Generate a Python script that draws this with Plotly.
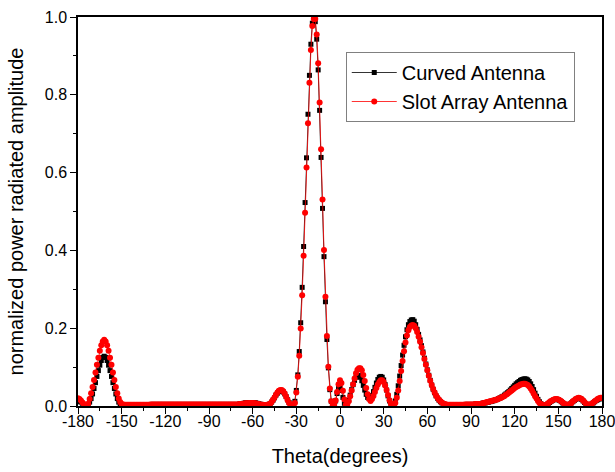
"""
Radiation pattern comparison: curved antenna vs slot array antenna.
Normalized power over theta, sampled every degree from -180 to 180.
"""

import plotly.graph_objects as go

# Sample angles (degrees)
theta = list(range(-180, 181))

# Curved Antenna (black squares), one row = 10 degrees
curved_antenna = [
    0.013, 0.012, 0.010, 0.007, 0.004, 0.002, 0.001, 0.004, 0.010, 0.019,  # -180
    0.031, 0.045, 0.060, 0.076, 0.091, 0.105, 0.117, 0.125, 0.128, 0.125,  # -170
    0.117, 0.105, 0.091, 0.076, 0.060, 0.045, 0.031, 0.019, 0.010, 0.004,  # -160
    0.002, 0.002, 0.002, 0.003, 0.003, 0.003, 0.003, 0.003, 0.003, 0.003,  # -150
    0.003, 0.003, 0.003, 0.003, 0.003, 0.003, 0.003, 0.003, 0.003, 0.003,  # -140
    0.004, 0.004, 0.004, 0.004, 0.004, 0.004, 0.004, 0.004, 0.004, 0.004,  # -130
    0.004, 0.004, 0.004, 0.004, 0.004, 0.004, 0.004, 0.004, 0.004, 0.004,  # -120
    0.004, 0.004, 0.004, 0.004, 0.004, 0.004, 0.004, 0.004, 0.004, 0.004,  # -110
    0.004, 0.004, 0.004, 0.004, 0.004, 0.004, 0.004, 0.004, 0.004, 0.004,  # -100
    0.004, 0.004, 0.004, 0.004, 0.004, 0.004, 0.004, 0.004, 0.004, 0.004,  # -90
    0.004, 0.004, 0.004, 0.004, 0.004, 0.004, 0.004, 0.004, 0.004, 0.004,  # -80
    0.004, 0.005, 0.006, 0.006, 0.007, 0.008, 0.008, 0.009, 0.009, 0.009,  # -70
    0.009, 0.009, 0.008, 0.007, 0.006, 0.005, 0.004, 0.003, 0.002, 0.002,  # -60
    0.003, 0.004, 0.006, 0.010, 0.015, 0.021, 0.028, 0.033, 0.037, 0.039,  # -50
    0.039, 0.036, 0.031, 0.024, 0.016, 0.009, 0.004, 0.002, 0.003, 0.012,  # -40
    0.040, 0.080, 0.140, 0.214, 0.305, 0.410, 0.523, 0.638, 0.750, 0.850,  # -30
    0.930, 0.984, 1.000, 0.988, 0.943, 0.864, 0.760, 0.639, 0.508, 0.384,  # -20
    0.268, 0.171, 0.098, 0.042, 0.012, 0.003, 0.002, 0.013, 0.032, 0.047,  # -10
    0.050, 0.040, 0.022, 0.007, 0.001, 0.006, 0.015, 0.028, 0.042, 0.055,  # 0
    0.066, 0.074, 0.078, 0.078, 0.074, 0.065, 0.053, 0.041, 0.030, 0.022,  # 10
    0.019, 0.020, 0.027, 0.037, 0.048, 0.059, 0.068, 0.074, 0.076, 0.074,  # 20
    0.067, 0.055, 0.041, 0.026, 0.013, 0.005, 0.002, 0.004, 0.013, 0.030,  # 30
    0.052, 0.077, 0.104, 0.131, 0.156, 0.178, 0.196, 0.209, 0.217, 0.221,  # 40
    0.222, 0.218, 0.209, 0.197, 0.184, 0.170, 0.155, 0.139, 0.123, 0.108,  # 50
    0.093, 0.079, 0.066, 0.054, 0.043, 0.034, 0.026, 0.020, 0.015, 0.011,  # 60
    0.008, 0.006, 0.004, 0.003, 0.003, 0.003, 0.003, 0.003, 0.003, 0.003,  # 70
    0.003, 0.003, 0.003, 0.003, 0.003, 0.003, 0.004, 0.004, 0.004, 0.004,  # 80
    0.004, 0.004, 0.004, 0.005, 0.005, 0.005, 0.005, 0.006, 0.007, 0.008,  # 90
    0.008, 0.009, 0.010, 0.011, 0.012, 0.013, 0.014, 0.016, 0.017, 0.019,  # 100
    0.021, 0.023, 0.025, 0.028, 0.031, 0.034, 0.037, 0.041, 0.045, 0.049,  # 110
    0.053, 0.057, 0.060, 0.063, 0.066, 0.068, 0.069, 0.070, 0.069, 0.067,  # 120
    0.063, 0.057, 0.050, 0.042, 0.033, 0.025, 0.017, 0.011, 0.006, 0.003,  # 130
    0.002, 0.002, 0.003, 0.006, 0.009, 0.012, 0.014, 0.016, 0.017, 0.017,  # 140
    0.016, 0.014, 0.011, 0.008, 0.005, 0.003, 0.002, 0.003, 0.005, 0.008,  # 150
    0.011, 0.014, 0.017, 0.019, 0.020, 0.019, 0.017, 0.013, 0.009, 0.005,  # 160
    0.003, 0.002, 0.003, 0.005, 0.008, 0.011, 0.014, 0.016, 0.018, 0.019,  # 170
    0.019,                                                                 # 180
]

# Slot Array Antenna (red circles)
slot_array_antenna = [
    0.020, 0.018, 0.014, 0.009, 0.005, 0.002, 0.002, 0.006, 0.018, 0.033,  # -180
    0.049, 0.067, 0.086, 0.106, 0.124, 0.142, 0.156, 0.166, 0.170, 0.166,  # -170
    0.156, 0.142, 0.124, 0.106, 0.086, 0.067, 0.049, 0.033, 0.019, 0.010,  # -160
    0.005, 0.004, 0.003, 0.003, 0.003, 0.003, 0.003, 0.003, 0.003, 0.003,  # -150
    0.003, 0.003, 0.003, 0.003, 0.003, 0.003, 0.003, 0.003, 0.003, 0.003,  # -140
    0.004, 0.004, 0.004, 0.004, 0.004, 0.004, 0.004, 0.004, 0.004, 0.004,  # -130
    0.004, 0.004, 0.004, 0.004, 0.004, 0.004, 0.004, 0.004, 0.004, 0.004,  # -120
    0.004, 0.004, 0.004, 0.004, 0.004, 0.004, 0.004, 0.004, 0.004, 0.004,  # -110
    0.004, 0.004, 0.004, 0.004, 0.004, 0.004, 0.004, 0.004, 0.004, 0.004,  # -100
    0.004, 0.004, 0.004, 0.004, 0.004, 0.004, 0.004, 0.004, 0.004, 0.004,  # -90
    0.004, 0.004, 0.004, 0.004, 0.004, 0.004, 0.004, 0.004, 0.004, 0.004,  # -80
    0.004, 0.005, 0.005, 0.006, 0.006, 0.007, 0.007, 0.007, 0.008, 0.008,  # -70
    0.008, 0.007, 0.007, 0.006, 0.005, 0.004, 0.003, 0.003, 0.002, 0.002,  # -60
    0.003, 0.004, 0.006, 0.010, 0.016, 0.022, 0.029, 0.035, 0.039, 0.041,  # -50
    0.041, 0.038, 0.032, 0.024, 0.015, 0.008, 0.003, 0.001, 0.002, 0.008,  # -40
    0.035, 0.075, 0.129, 0.199, 0.285, 0.386, 0.497, 0.613, 0.727, 0.831,  # -30
    0.915, 0.977, 0.995, 0.995, 0.955, 0.881, 0.780, 0.660, 0.531, 0.401,  # -20
    0.281, 0.180, 0.101, 0.045, 0.012, 0.002, 0.003, 0.014, 0.036, 0.056,  # -10
    0.066, 0.059, 0.039, 0.017, 0.003, 0.004, 0.012, 0.025, 0.040, 0.056,  # 0
    0.071, 0.084, 0.093, 0.097, 0.097, 0.092, 0.080, 0.064, 0.046, 0.030,  # 10
    0.018, 0.013, 0.018, 0.026, 0.036, 0.046, 0.055, 0.062, 0.066, 0.066,  # 20
    0.062, 0.053, 0.041, 0.028, 0.015, 0.006, 0.001, 0.002, 0.008, 0.021,  # 30
    0.040, 0.064, 0.090, 0.116, 0.141, 0.163, 0.181, 0.195, 0.203, 0.207,  # 40
    0.208, 0.206, 0.200, 0.190, 0.178, 0.165, 0.151, 0.136, 0.121, 0.106,  # 50
    0.092, 0.078, 0.065, 0.054, 0.044, 0.035, 0.027, 0.021, 0.016, 0.012,  # 60
    0.009, 0.006, 0.005, 0.004, 0.003, 0.003, 0.003, 0.003, 0.003, 0.003,  # 70
    0.003, 0.003, 0.003, 0.003, 0.003, 0.003, 0.004, 0.004, 0.004, 0.004,  # 80
    0.004, 0.004, 0.004, 0.005, 0.005, 0.005, 0.005, 0.006, 0.007, 0.008,  # 90
    0.009, 0.010, 0.011, 0.012, 0.013, 0.014, 0.015, 0.016, 0.017, 0.019,  # 100
    0.020, 0.022, 0.024, 0.026, 0.029, 0.031, 0.034, 0.037, 0.040, 0.043,  # 110
    0.046, 0.049, 0.051, 0.053, 0.055, 0.056, 0.057, 0.057, 0.056, 0.054,  # 120
    0.050, 0.045, 0.039, 0.032, 0.025, 0.019, 0.013, 0.008, 0.005, 0.003,  # 130
    0.002, 0.002, 0.004, 0.007, 0.010, 0.013, 0.015, 0.017, 0.018, 0.018,  # 140
    0.017, 0.015, 0.012, 0.009, 0.006, 0.004, 0.003, 0.003, 0.005, 0.008,  # 150
    0.012, 0.015, 0.018, 0.020, 0.021, 0.020, 0.018, 0.014, 0.010, 0.006,  # 160
    0.004, 0.003, 0.004, 0.006, 0.009, 0.012, 0.015, 0.018, 0.020, 0.021,  # 170
    0.021,                                                                 # 180
]

# Axis ticks (Origin style, plain hyphen minus)
x_ticks = [-180, -150, -120, -90, -60, -30, 0, 30, 60, 90, 120, 150, 180]
x_tick_text = [str(v) for v in x_ticks]
y_ticks = [0.0, 0.2, 0.4, 0.6, 0.8, 1.0]

FONT = 'Arial, Liberation Sans, sans-serif'

fig = go.Figure()

fig.add_trace(go.Scatter(
    x=theta, y=curved_antenna,
    mode='lines+markers',
    name='Curved Antenna',
    line=dict(color='black', width=0.8),
    marker=dict(symbol='square', size=5, color='black'),
))

fig.add_trace(go.Scatter(
    x=theta, y=slot_array_antenna,
    mode='lines+markers',
    name='Slot Array Antenna',
    line=dict(color='#ff0000', width=0.8),
    marker=dict(symbol='circle', size=6, color='#ff0000'),
))

axis_common = dict(
    showgrid=False, zeroline=False, automargin=False,
    showline=True, linecolor='black', linewidth=1.5, mirror=True,
    ticks='outside', ticklen=6, tickwidth=1.2, tickcolor='black',
    tickfont=dict(family=FONT, size=16, color='black'),
)

fig.update_xaxes(
    range=[-180, 180],
    tickvals=x_ticks, ticktext=x_tick_text,
    ticklabelstandoff=-6,
    ticklabeloverflow='allow',
    minor=dict(dtick=15, ticks='outside', ticklen=3, tickcolor='black'),
    title=dict(text='Theta(degrees)', font=dict(family=FONT, size=20, color='black'),
               standoff=20),
    **axis_common,
)
fig.update_yaxes(
    range=[0, 1.0],
    tickvals=y_ticks, tickformat='.1f',
    minor=dict(dtick=0.1, ticks='outside', ticklen=3, tickcolor='black'),
    title=dict(text='normalized power radiated amplitude',
               font=dict(family=FONT, size=20, color='black'), standoff=16),
    **axis_common,
)

fig.update_layout(
    width=615, height=472,
    plot_bgcolor='white',
    paper_bgcolor='white',
    font=dict(family=FONT, color='black'),
    margin=dict(l=78, r=13, t=17, b=66),
    legend=dict(
        x=0.511, y=0.91, xanchor='left', yanchor='top',
        font=dict(family=FONT, size=20, color='black'),
        bordercolor='#808080', borderwidth=1,
        bgcolor='white',
        itemwidth=45,
        tracegroupgap=0,
    ),
)

# drop the default page margin so the figure fills the window exactly
fig.write_html(
    "out.html",
    config={'displayModeBar': False},
    post_script="document.body.style.margin='0';document.body.style.overflow='hidden';",
)
